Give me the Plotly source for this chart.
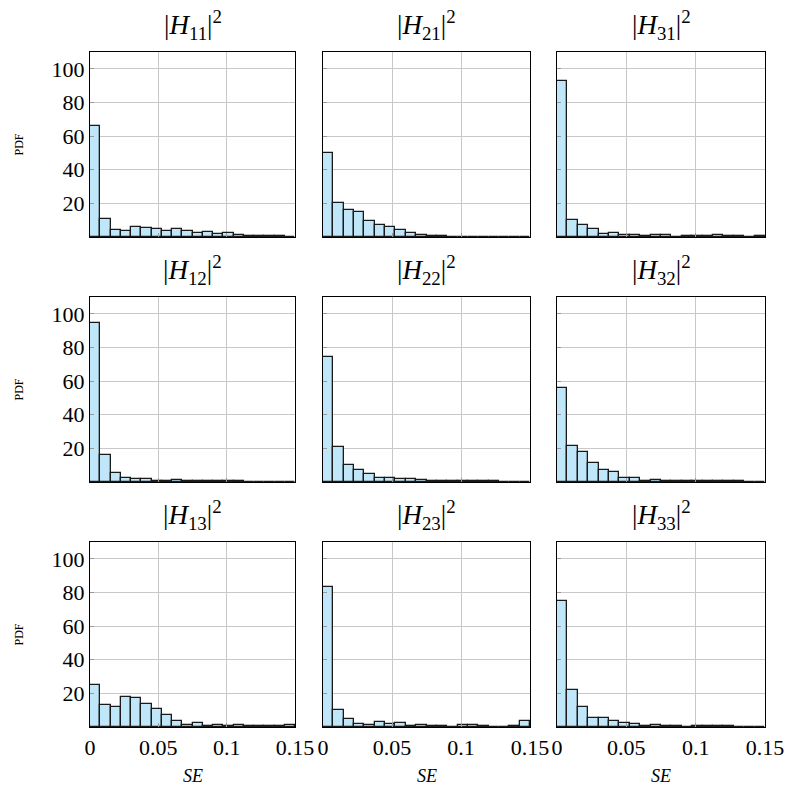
import plotly.graph_objects as go

# histogram of squared error for each channel coefficient, 20 bins over [0, 0.15]
BIN_W = 0.0075
bin_centers = [BIN_W * (i + 0.5) for i in range(20)]

titles = [
    ["|<i>H</i><sub>11</sub>|<sup>2</sup>", "|<i>H</i><sub>21</sub>|<sup>2</sup>", "|<i>H</i><sub>31</sub>|<sup>2</sup>"],
    ["|<i>H</i><sub>12</sub>|<sup>2</sup>", "|<i>H</i><sub>22</sub>|<sup>2</sup>", "|<i>H</i><sub>32</sub>|<sup>2</sup>"],
    ["|<i>H</i><sub>13</sub>|<sup>2</sup>", "|<i>H</i><sub>23</sub>|<sup>2</sup>", "|<i>H</i><sub>33</sub>|<sup>2</sup>"],
]

pdf_h11 = [66, 11, 4.4, 3.6, 6, 5.6, 4.8, 3.4, 4.6, 3.6, 2.6, 3.2, 2, 2.4, 1.4, 0.8, 0.6, 0.6, 0.5, 0.2]
pdf_h21 = [50.2, 20.2, 15.8, 15, 9.4, 7.4, 6.2, 4, 2.2, 1.2, 0.6, 0.4, 0.2, 0.2, 0, 0, 0, 0, 0, 0]
pdf_h31 = [92.6, 10, 7.2, 4.6, 1.6, 2.6, 1.2, 1, 0.4, 1, 1.2, 0.2, 0.6, 0.6, 0.8, 1.2, 0.4, 0.8, 0.2, 0.8]
pdf_h12 = [94.6, 16.2, 5.6, 2.4, 2, 1.8, 0.8, 0.8, 1.4, 0.8, 0.4, 0.4, 0.6, 0.4, 0.5, 0.3, 0.2, 0.1, 0.1, 0.1]
pdf_h22 = [74.4, 21, 10, 7, 4.8, 2.6, 2.6, 1.8, 1.8, 1, 0.4, 0.6, 0.4, 0.6, 0.4, 0.4, 0.6, 0.2, 0.3, 0.2]
pdf_h32 = [55.8, 21.2, 17.8, 11.2, 7, 5.8, 2.2, 2.4, 0.6, 1.2, 0.4, 0.8, 0.8, 0.6, 0.4, 0.4, 0.4, 0.4, 0.2, 0.2]
pdf_h13 = [25, 13, 11.6, 17.8, 17.4, 13.4, 10.8, 7.4, 3.8, 1.2, 2.2, 0.4, 1.2, 0.8, 1, 0.4, 0.6, 0.4, 0.4, 1.2]
pdf_h23 = [83.4, 10, 5, 1.8, 1.2, 2.8, 1.6, 2.4, 0.6, 1, 0.8, 0.6, 0, 1, 1.4, 0.4, 0.2, 0.2, 0.6, 3.8]
pdf_h33 = [75, 22, 11.8, 5.6, 5.4, 3.4, 2.4, 1.6, 0.4, 1, 0.6, 0.4, 0.2, 0.6, 0.6, 0.6, 0.4, 0.2, 0, 0]

data = [
    [pdf_h11, pdf_h21, pdf_h31],
    [pdf_h12, pdf_h22, pdf_h32],
    [pdf_h13, pdf_h23, pdf_h33],
]

x_ticks = [0, 0.05, 0.1, 0.15]
x_ticktext = ["0", "0.05", "0.1", "0.15"]
y_ticks = [20, 40, 60, 80, 100]

W, H = 798, 796
col_px = [(90, 295), (323, 530), (557, 765)]
row_px = [(52, 237), (297, 482), (542, 727)]

FONT = "Liberation Serif"
fig = go.Figure()

k = 0
for r in range(3):
    for c in range(3):
        k += 1
        xa = "x" if k == 1 else f"x{k}"
        ya = "y" if k == 1 else f"y{k}"
        fig.add_trace(go.Bar(
            x=bin_centers, y=data[r][c], width=BIN_W,
            marker=dict(color="#bfe6f9", line=dict(color="#1a1a1a", width=1.3)),
            xaxis=xa, yaxis=ya, showlegend=False,
        ))
        x0, x1 = col_px[c]
        y0, y1 = row_px[r]
        common = dict(
            showline=True, linecolor="black", linewidth=1.2, mirror=True,
            showgrid=True, gridcolor="#c8c8c8", gridwidth=1,
            ticks="inside", ticklen=4, tickcolor="#999999",
            zeroline=False, automargin=False,
            tickfont=dict(family=FONT, size=22, color="black"),
        )
        fig.update_layout(**{
            ("xaxis" if k == 1 else f"xaxis{k}"): dict(
                domain=[x0 / W, x1 / W], anchor=ya, range=[0, 0.15],
                tickvals=x_ticks, ticktext=x_ticktext,
                showticklabels=(r == 2), **common),
            ("yaxis" if k == 1 else f"yaxis{k}"): dict(
                domain=[1 - y1 / H, 1 - y0 / H], anchor=xa, range=[0, 110],
                tickvals=y_ticks, showticklabels=(c == 0), **common),
        })
        fig.add_annotation(
            text=titles[r][c], x=(x0 + x1) / 2 / W, y=1 - (y0 - 6) / H,
            xref="paper", yref="paper", xanchor="center", yanchor="bottom",
            showarrow=False, font=dict(family=FONT, size=27, color="black"))
        if c == 0:
            fig.add_annotation(
                text="PDF", x=18 / W, y=1 - (y0 + y1) / 2 / H,
                xref="paper", yref="paper", textangle=-90,
                xanchor="center", yanchor="middle",
                showarrow=False, font=dict(family=FONT, size=12, color="black"))
        if r == 2:
            fig.add_annotation(
                text="<i>SE</i>", x=(x0 + x1) / 2 / W, y=1 - 776 / H,
                xref="paper", yref="paper", xanchor="center", yanchor="middle",
                showarrow=False, font=dict(family=FONT, size=18, color="black"))

fig.update_layout(
    template="none",
    width=W, height=H,
    margin=dict(l=0, r=0, t=0, b=0),
    plot_bgcolor="white", paper_bgcolor="white",
    bargap=0,
)

# drop the default page margin so the figure sits at the window's corner
fig.write_html("out.html", config={"displayModeBar": False},
               post_script="document.body.style.margin='0';")
